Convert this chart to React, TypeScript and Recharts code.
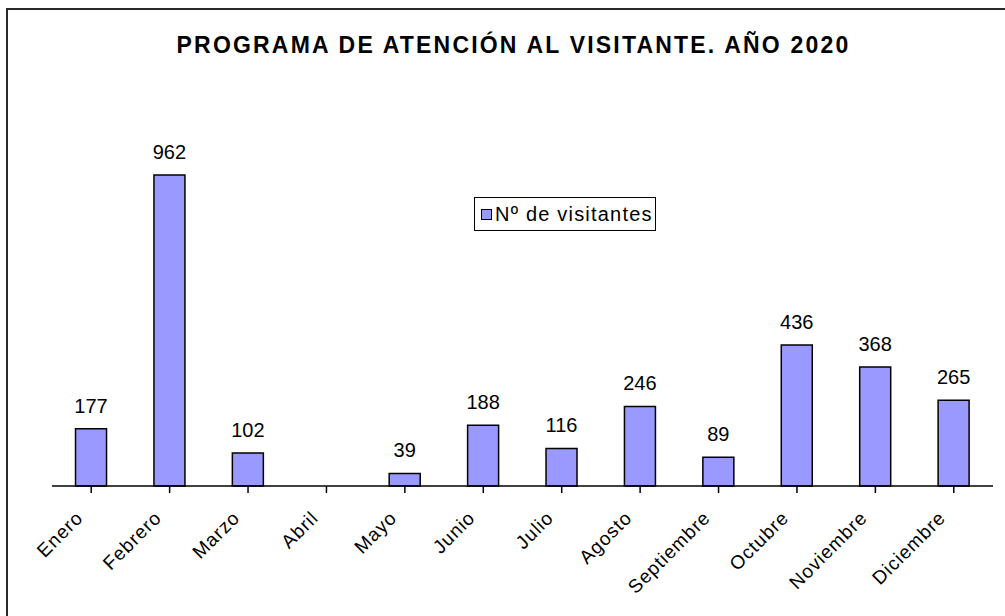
import { BarChart, Bar, XAxis, YAxis, LabelList } from 'recharts'

const MONTHS = ['Enero', 'Febrero', 'Marzo', 'Abril', 'Mayo', 'Junio', 'Julio', 'Agosto', 'Septiembre', 'Octubre', 'Noviembre', 'Diciembre']
const VISITORS = [177, 962, 102, 0, 39, 188, 116, 246, 89, 436, 368, 265]
const SERIES_NAME = 'Nº de visitantes'
const TITLE = 'PROGRAMA DE ATENCIÓN AL VISITANTE. AÑO 2020'

const data = MONTHS.map((m, i) => ({ name: m, value: VISITORS[i] }))

const FONT = '"Liberation Sans", Arial, sans-serif'

function MonthTick({ x, y, payload }: any) {
    return (
        <g transform={`translate(${x - 7},${y + 26})`}>
            <text textAnchor="end" transform="rotate(-45)" fontSize={19} letterSpacing={1} fill="#000" fontFamily={FONT}>
                {payload.value}
            </text>
        </g>
    )
}

export default function App() {
    return (
        <div style={{ position: 'absolute', left: 0, top: 0, width: 1005, height: 616, overflow: 'hidden', background: '#fff' }}>
            {/* outer frame, runs off the right and bottom edges */}
            <div style={{ position: 'absolute', left: 6, top: 8, width: 1020, height: 640, border: '2px solid #2a2a2a' }} />
            <div
                style={{
                    position: 'absolute',
                    left: 0,
                    width: 1005,
                    top: 32,
                    textAlign: 'center',
                    fontFamily: FONT,
                    fontWeight: 'bold',
                    fontSize: 23,
                    letterSpacing: 2.2,
                    color: '#000',
                    paddingLeft: 22,
                    boxSizing: 'border-box',
                }}
            >
                {TITLE}
            </div>
            <div style={{ position: 'absolute', left: 0, top: 0 }}>
                <BarChart width={1005} height={616} data={data} margin={{ top: 98, right: 12, left: 52, bottom: 0 }} barCategoryGap="30%">
                    <XAxis
                        dataKey="name"
                        height={130}
                        interval={0}
                        tickSize={7}
                        tickMargin={0}
                        axisLine={{ stroke: '#000', strokeWidth: 1.5 }}
                        tickLine={{ stroke: '#000', strokeWidth: 1.5 }}
                        tick={<MonthTick />}
                    />
                    <YAxis hide domain={[0, 1200]} />
                    <Bar dataKey="value" name={SERIES_NAME} fill="#9999ff" stroke="#000" strokeWidth={1.5} isAnimationActive={false}>
                        <LabelList
                            dataKey="value"
                            position="top"
                            offset={16}
                            fill="#000"
                            fontSize={20}
                            fontFamily={FONT}
                            formatter={(v: any) => (v ? v : '')}
                        />
                    </Bar>
                </BarChart>
            </div>
            {/* legend box */}
            <div
                style={{
                    position: 'absolute',
                    left: 474,
                    top: 197,
                    width: 180,
                    height: 32,
                    border: '1.5px solid #000',
                    background: '#fff',
                    display: 'flex',
                    alignItems: 'center',
                    fontFamily: FONT,
                    fontSize: 20,
                    letterSpacing: 1.2,
                    color: '#000',
                    whiteSpace: 'nowrap',
                }}
            >
                <span
                    style={{
                        display: 'inline-block',
                        width: 9,
                        height: 9,
                        background: '#9999ff',
                        border: '1px solid #000',
                        marginLeft: 6,
                        marginRight: 3,
                    }}
                />
                {SERIES_NAME}
            </div>
        </div>
    )
}
